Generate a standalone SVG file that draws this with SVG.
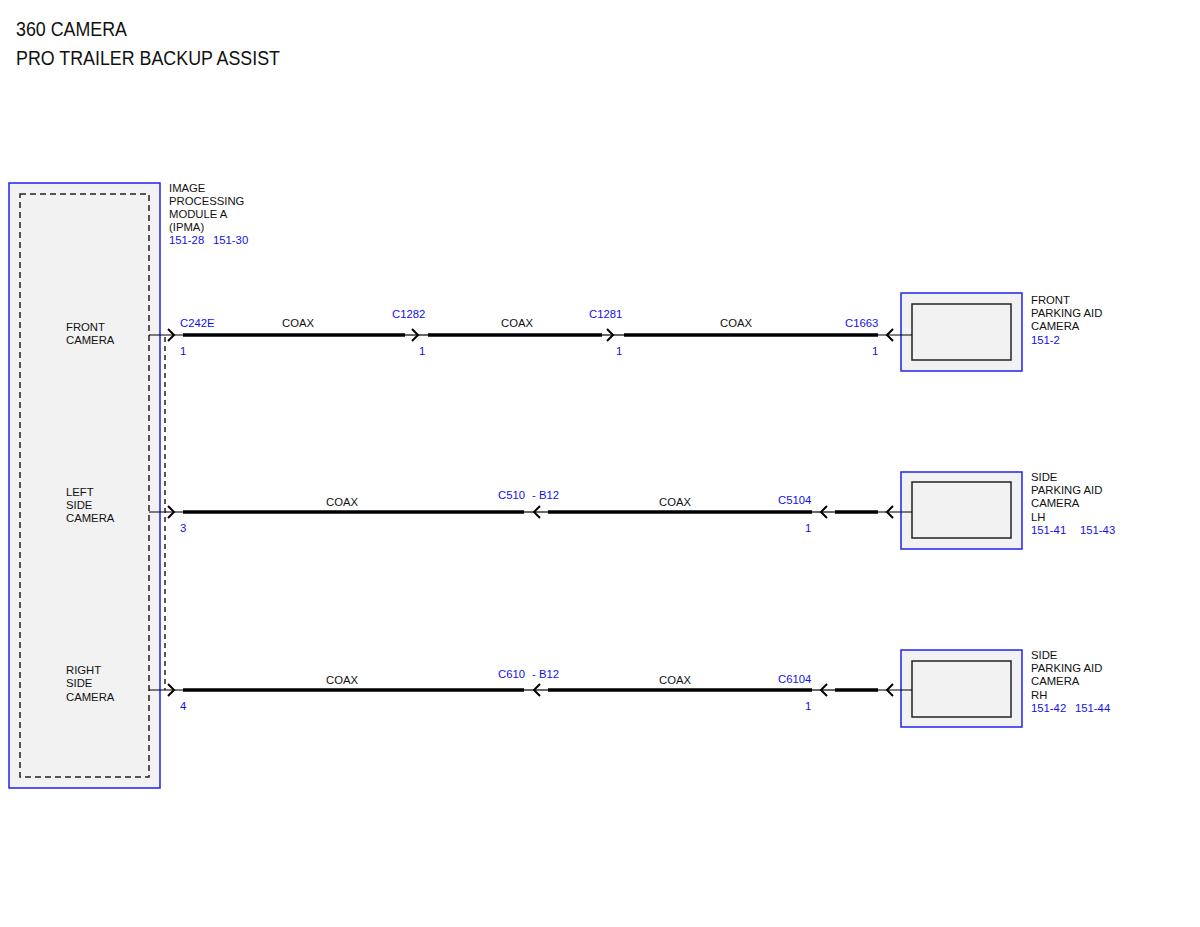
<svg xmlns="http://www.w3.org/2000/svg" width="1200" height="927" viewBox="0 0 1200 927">
<style>
text{font-family:"Liberation Sans",Arial,sans-serif;font-size:11.3px;fill:#111}
.b{fill:#1010ee}
.title{font-size:20px;fill:#111}
.outer{fill:#f2f2f2;stroke:#2222ee;stroke-width:1.5}
.inner{fill:#f2f2f2;stroke:#222;stroke-width:1.5}
.dash{fill:none;stroke:#222;stroke-width:1.5;stroke-dasharray:6 4}
.thick{stroke:#000;stroke-width:3.5;fill:none}
.thin{stroke:#000;stroke-width:1.2;fill:none}
.chev{stroke:#000;stroke-width:2;fill:none}
</style>
<rect width="1200" height="927" fill="#fff"/>
<text class="title" x="16" y="36" textLength="111" lengthAdjust="spacingAndGlyphs">360 CAMERA</text>
<text class="title" x="16" y="65" textLength="264" lengthAdjust="spacingAndGlyphs">PRO TRAILER BACKUP ASSIST</text>

<g id="ipma">
<rect class="outer" x="9" y="183" width="151" height="605"/>
<rect class="dash" x="20" y="194" width="129" height="583"/>
<text x="169" y="192">IMAGE</text>
<text x="169" y="205">PROCESSING</text>
<text x="169" y="218">MODULE A</text>
<text x="169" y="231">(IPMA)</text>
<text class="b" x="169" y="244">151-28</text>
<text class="b" x="213" y="244">151-30</text>
<text x="66" y="331">FRONT</text>
<text x="66" y="344">CAMERA</text>
<text x="66" y="496">LEFT</text>
<text x="66" y="509">SIDE</text>
<text x="66" y="522">CAMERA</text>
<text x="66" y="674">RIGHT</text>
<text x="66" y="687">SIDE</text>
<text x="66" y="701">CAMERA</text>
</g>

<g id="front-camera">
<rect class="outer" x="901" y="293" width="121" height="78"/>
<rect class="inner" x="912" y="304" width="99" height="56"/>
<text x="1031" y="304">FRONT</text>
<text x="1031" y="317">PARKING AID</text>
<text x="1031" y="330">CAMERA</text>
<text class="b" x="1031" y="344">151-2</text>
</g>

<g id="side-camera-lh">
<rect class="outer" x="901" y="472" width="121" height="77"/>
<rect class="inner" x="912" y="482" width="99" height="56"/>
<text x="1031" y="481">SIDE</text>
<text x="1031" y="494">PARKING AID</text>
<text x="1031" y="507">CAMERA</text>
<text x="1031" y="521">LH</text>
<text class="b" x="1031" y="534">151-41</text>
<text class="b" x="1080" y="534">151-43</text>
</g>

<g id="side-camera-rh">
<rect class="outer" x="901" y="650" width="121" height="77"/>
<rect class="inner" x="912" y="661" width="99" height="56"/>
<text x="1031" y="659">SIDE</text>
<text x="1031" y="672">PARKING AID</text>
<text x="1031" y="685">CAMERA</text>
<text x="1031" y="699">RH</text>
<text class="b" x="1031" y="712">151-42</text>
<text class="b" x="1075" y="712">151-44</text>
</g>

<g id="connectors">
<line x1="165" y1="337" x2="165" y2="690" stroke="#222" stroke-width="1.5" stroke-dasharray="5 4"/>

<!-- Row 1 -->
<line class="thin" x1="149" y1="335" x2="183" y2="335"/>
<path class="chev" d="M168,329 L174,335 L168,341"/>
<line class="thick" x1="183" y1="335" x2="405" y2="335"/>
<line class="thin" x1="405" y1="335" x2="428" y2="335"/>
<path class="chev" d="M412,329 L418,335 L412,341"/>
<line class="thick" x1="428" y1="335" x2="602" y2="335"/>
<line class="thin" x1="602" y1="335" x2="624" y2="335"/>
<path class="chev" d="M607,329 L613,335 L607,341"/>
<line class="thick" x1="624" y1="335" x2="878" y2="335"/>
<line class="thin" x1="878" y1="335" x2="912" y2="335"/>
<path class="chev" d="M893,329 L887,335 L893,341"/>
<text class="b" x="180" y="327">C242E</text>
<text class="b" x="180" y="355">1</text>
<text x="298" y="327" text-anchor="middle">COAX</text>
<text class="b" x="392" y="318">C1282</text>
<text class="b" x="419" y="355">1</text>
<text x="517" y="327" text-anchor="middle">COAX</text>
<text class="b" x="589" y="318">C1281</text>
<text class="b" x="616" y="355">1</text>
<text x="736" y="327" text-anchor="middle">COAX</text>
<text class="b" x="845" y="327">C1663</text>
<text class="b" x="872" y="355">1</text>

<!-- Row 2 -->
<line class="thin" x1="149" y1="512" x2="183" y2="512"/>
<path class="chev" d="M168,506 L174,512 L168,518"/>
<line class="thick" x1="183" y1="512" x2="524" y2="512"/>
<line class="thin" x1="524" y1="512" x2="548" y2="512"/>
<path class="chev" d="M540,506 L534,512 L540,518"/>
<line class="thick" x1="548" y1="512" x2="812" y2="512"/>
<line class="thin" x1="812" y1="512" x2="835" y2="512"/>
<path class="chev" d="M827,506 L821,512 L827,518"/>
<line class="thick" x1="835" y1="512" x2="878" y2="512"/>
<line class="thin" x1="878" y1="512" x2="912" y2="512"/>
<path class="chev" d="M893,506 L887,512 L893,518"/>
<text class="b" x="180" y="532">3</text>
<text x="342" y="506" text-anchor="middle">COAX</text>
<text class="b" x="498" y="499">C510</text>
<text class="b" x="532" y="499">- B12</text>
<text x="675" y="506" text-anchor="middle">COAX</text>
<text class="b" x="778" y="504">C5104</text>
<text class="b" x="805" y="532">1</text>

<!-- Row 3 -->
<line class="thin" x1="149" y1="690" x2="183" y2="690"/>
<path class="chev" d="M168,684 L174,690 L168,696"/>
<line class="thick" x1="183" y1="690" x2="524" y2="690"/>
<line class="thin" x1="524" y1="690" x2="548" y2="690"/>
<path class="chev" d="M540,684 L534,690 L540,696"/>
<line class="thick" x1="548" y1="690" x2="812" y2="690"/>
<line class="thin" x1="812" y1="690" x2="835" y2="690"/>
<path class="chev" d="M827,684 L821,690 L827,696"/>
<line class="thick" x1="835" y1="690" x2="878" y2="690"/>
<line class="thin" x1="878" y1="690" x2="912" y2="690"/>
<path class="chev" d="M893,684 L887,690 L893,696"/>
<text class="b" x="180" y="710">4</text>
<text x="342" y="684" text-anchor="middle">COAX</text>
<text class="b" x="498" y="678">C610</text>
<text class="b" x="532" y="678">- B12</text>
<text x="675" y="684" text-anchor="middle">COAX</text>
<text class="b" x="778" y="683">C6104</text>
<text class="b" x="805" y="710">1</text>
</g>
</svg>
